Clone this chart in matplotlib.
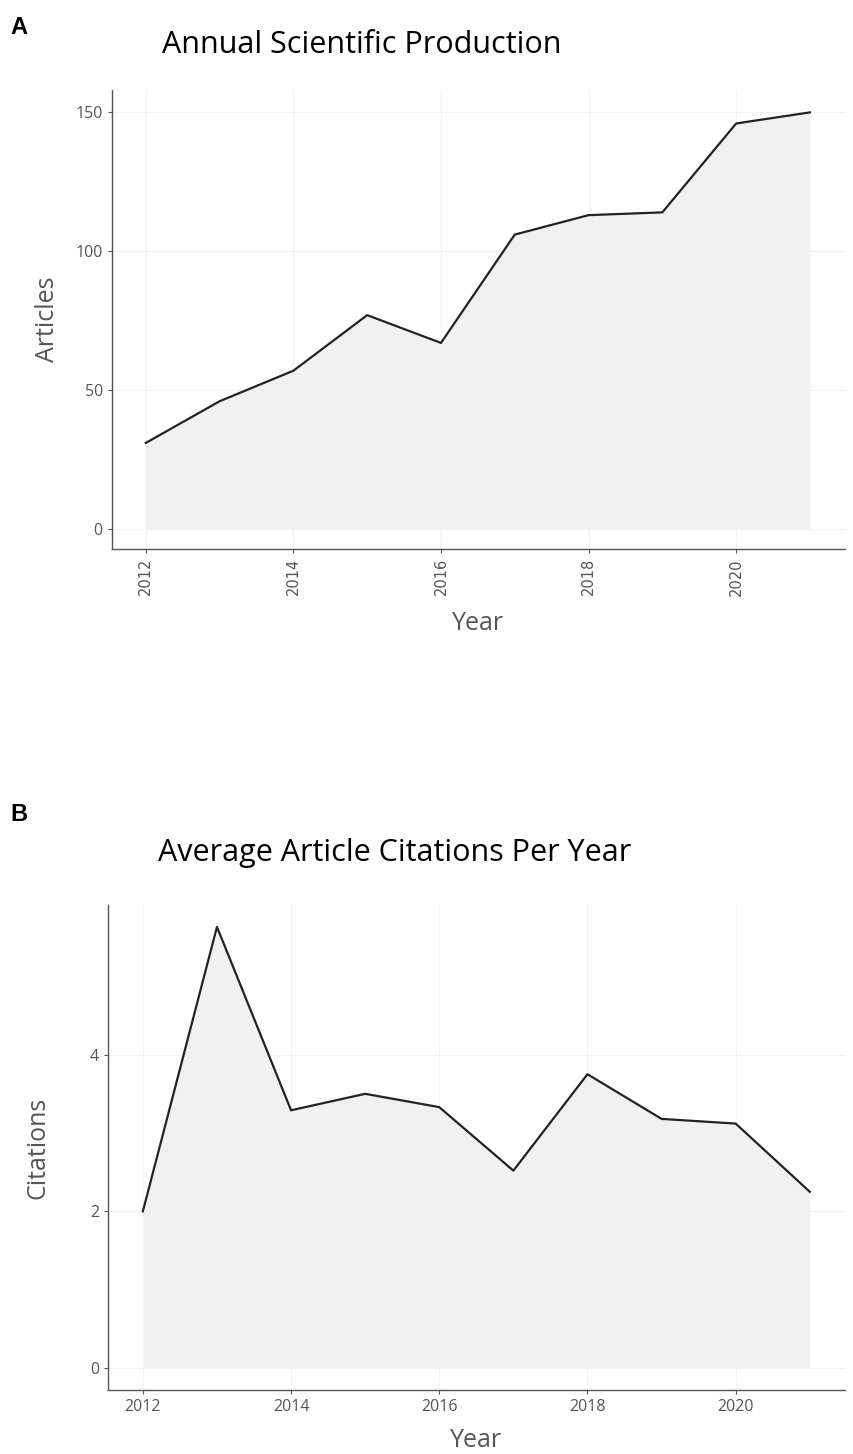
import matplotlib
matplotlib.use("Agg")
import matplotlib.pyplot as plt

years = [2012, 2013, 2014, 2015, 2016, 2017, 2018, 2019, 2020, 2021]
articles = [31, 46, 57, 77, 67, 106, 113, 114, 146, 150]
citations = [2.0, 5.63, 3.29, 3.50, 3.33, 2.52, 3.75, 3.18, 3.12, 2.25]

x_ticks = [2012, 2014, 2016, 2018, 2020]
top_yticks = [0, 50, 100, 150]
bot_yticks = [0, 2, 4]

plt.rcParams['font.family'] = ['Open Sans', 'DejaVu Sans']


def style_axis(ax):
    for s in ['top', 'right']:
        ax.spines[s].set_visible(False)
    for s in ['left', 'bottom']:
        ax.spines[s].set_color('#555555')
        ax.spines[s].set_linewidth(1.0)
    ax.grid(True, color='#f2f2f2', linewidth=0.8)
    ax.set_axisbelow(True)
    ax.tick_params(colors='#555555', labelsize=11.5, length=3, width=0.8)


fig = plt.figure(figsize=(8.54, 14.54), dpi=100)

# panel A
ax1 = fig.add_axes([0.131, 0.6224, 0.858, 0.3156])
ax1.fill_between(years, articles, 0, color='#f1f1f1', linewidth=0)
ax1.plot(years, articles, color='#222222', linewidth=1.6)
ax1.set_xlim(2011.54, 2021.47)
ax1.set_ylim(-7.2, 158)
ax1.set_xticks(x_ticks)
ax1.set_yticks(top_yticks)
style_axis(ax1)
ax1.set_xticklabels([str(t) for t in x_ticks], rotation=90,
                    family='DejaVu Sans', fontsize=10.5)
ax1.set_xlabel('Year', fontsize=18, color='#555555', labelpad=11)
ax1.set_ylabel('Articles', fontsize=18, color='#555555', labelpad=11)

fig.text(0.012, 0.981, 'A', fontsize=17, fontweight='bold', family='Liberation Sans', va='center')
fig.text(0.424, 0.969, 'Annual Scientific Production', fontsize=22, ha='center', va='center')

# panel B
ax2 = fig.add_axes([0.1265, 0.044, 0.8625, 0.3336])
ax2.fill_between(years, citations, 0, color='#f1f1f1', linewidth=0)
ax2.plot(years, citations, color='#222222', linewidth=1.6)
ax2.set_xlim(2011.53, 2021.47)
ax2.set_ylim(-0.28, 5.91)
ax2.set_xticks(x_ticks)
ax2.set_yticks(bot_yticks)
style_axis(ax2)
ax2.set_xlabel('Year', fontsize=18, color='#555555', labelpad=9)
ax2.set_ylabel('Citations', fontsize=18, color='#555555', labelpad=28)

fig.text(0.012, 0.44, 'B', fontsize=17, fontweight='bold', family='Liberation Sans', va='center')
fig.text(0.462, 0.4135, 'Average Article Citations Per Year', fontsize=22, ha='center', va='center')

fig.savefig('out.png', dpi=100)
